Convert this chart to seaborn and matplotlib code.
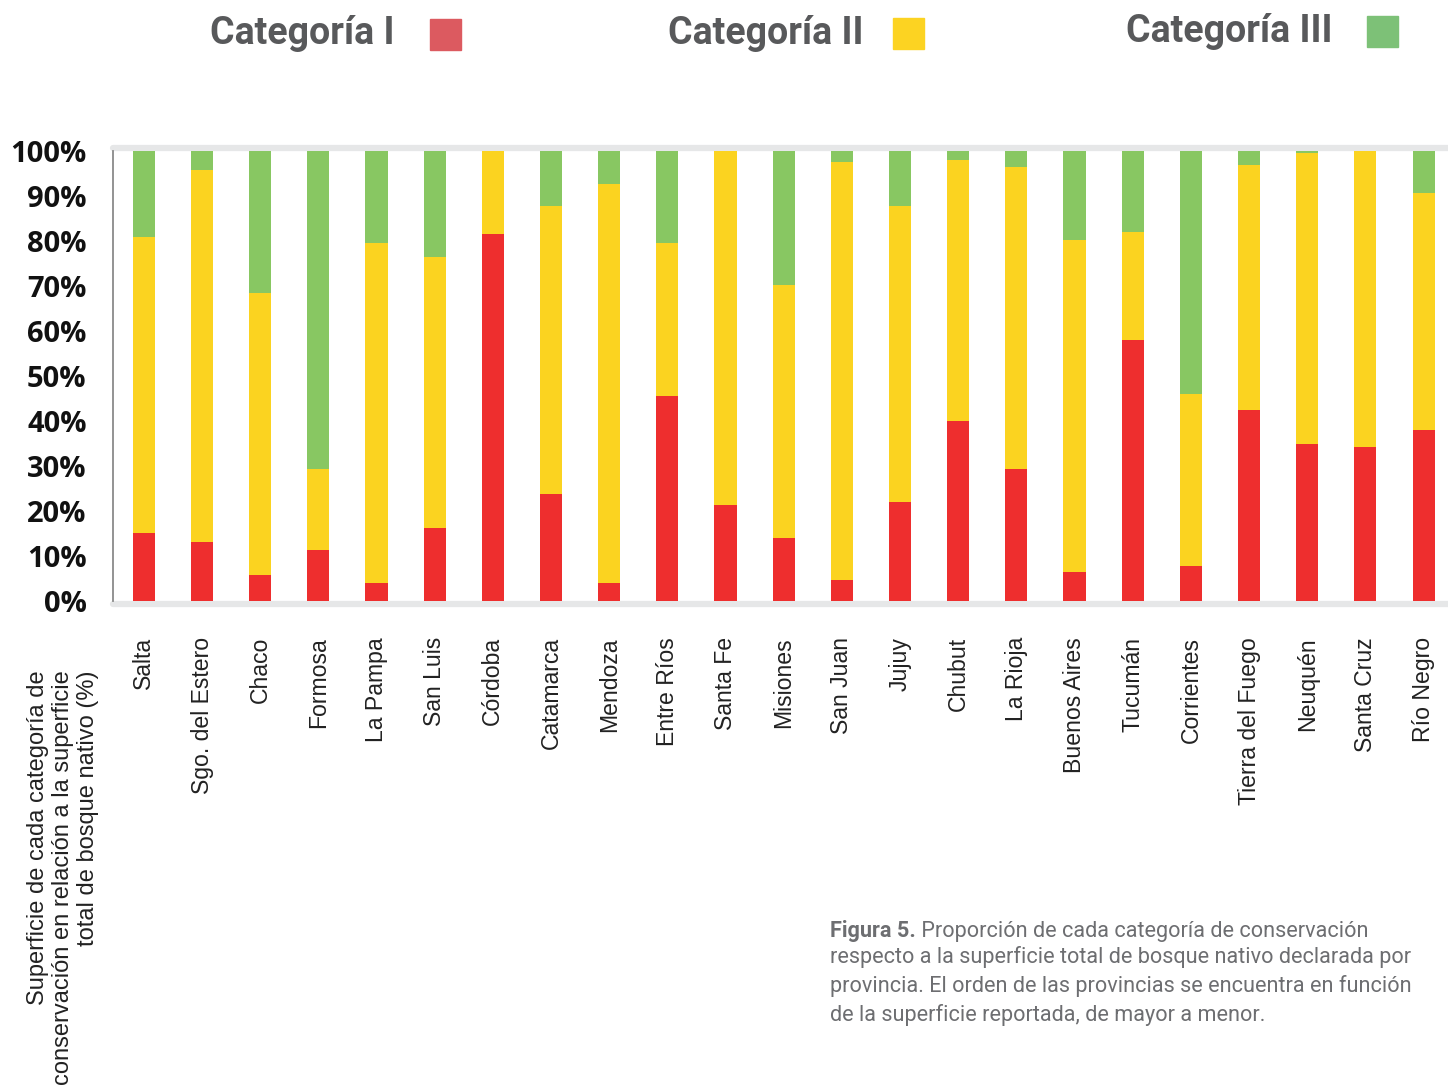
import numpy as np
import pandas as pd
import matplotlib.pyplot as plt
from matplotlib.patches import Rectangle
import seaborn as sns

# datos (% de la superficie de bosque nativo)
provincias = ['Salta', 'Sgo. del Estero', 'Chaco', 'Formosa', 'La Pampa', 'San Luis',
              'Córdoba', 'Catamarca', 'Mendoza', 'Entre Ríos', 'Santa Fe', 'Misiones',
              'San Juan', 'Jujuy', 'Chubut', 'La Rioja', 'Buenos Aires', 'Tucumán',
              'Corrientes', 'Tierra del Fuego', 'Neuquén', 'Santa Cruz', 'Río Negro']
cat_1 = [15.1, 13.2, 5.8, 11.3, 3.9, 16.3, 81.5, 23.8, 3.9, 45.5, 21.3, 13.9,
         4.6, 21.9, 39.9, 29.3, 6.4, 57.9, 7.7, 42.4, 34.9, 34.3, 38.0]
cat_2 = [65.8, 82.5, 62.6, 18.1, 75.7, 60.2, 18.5, 63.9, 88.8, 34.1, 78.7, 56.4,
         93.0, 65.8, 58.2, 67.1, 73.8, 24.2, 38.4, 54.6, 64.6, 65.7, 52.7]
cat_3 = [19.1, 4.3, 31.6, 70.6, 20.4, 23.5, 0.0, 12.3, 7.3, 20.4, 0.0, 29.7,
         2.4, 12.3, 1.9, 3.6, 19.8, 17.9, 53.9, 3.0, 0.5, 0.0, 9.3]
etiquetas_y = [f'{v}%' for v in range(0, 101, 10)]

rojo, amarillo, verde = '#ee2e2e', '#fbd320', '#88c762'

sns.set_style('white')
plt.rcParams['font.family'] = ['Liberation Sans', 'DejaVu Sans']

df = pd.DataFrame({'provincia': provincias, 'I': cat_1, 'II': cat_2, 'III': cat_3})
df['tope_II'] = df['I'] + df['II']
df['tope_III'] = df['tope_II'] + df['III']

fig = plt.figure(figsize=(14.48, 10.88), dpi=100)
ax = fig.add_axes([113 / 1448, 487 / 1088, 1335 / 1448, 450 / 1088])

# barras apiladas: se dibuja de arriba hacia abajo
sns.barplot(data=df, x='provincia', y='tope_III', color=verde, width=0.38,
            saturation=1, linewidth=0, ax=ax)
sns.barplot(data=df, x='provincia', y='tope_II', color=amarillo, width=0.38,
            saturation=1, linewidth=0, ax=ax)
sns.barplot(data=df, x='provincia', y='I', color=rojo, width=0.38,
            saturation=1, linewidth=0, ax=ax)

ax.set_ylim(0, 100)
ax.set_xlim(-0.53, 22.42)
ax.set_xlabel('')
ax.set_ylabel('')

# lineas grises arriba y abajo
ax.axhline(100.7, color='#e6e7e8', lw=4.5, clip_on=False, zorder=0)
ax.axhline(-0.7, color='#e6e7e8', lw=4.5, clip_on=False, zorder=0)

for s in ['top', 'right', 'bottom']:
    ax.spines[s].set_visible(False)
ax.spines['left'].set_color('#8a8a8a')
ax.spines['left'].set_linewidth(1.3)

ax.set_yticks(range(0, 101, 10))
ax.set_yticklabels(etiquetas_y)
ax.tick_params(axis='y', length=6, width=1.3, color='#8a8a8a', pad=13, labelsize=21)
for lbl in ax.get_yticklabels():
    lbl.set_family(['Open Sans', 'DejaVu Sans'])
    lbl.set_fontweight('bold')
    lbl.set_color('#111111')

ax.tick_params(axis='x', length=0, pad=26, labelsize=16.6, labelcolor='#222222')
plt.setp(ax.get_xticklabels(), rotation=90)

# titulo del eje y
fig.text(63 / 1448, 1 - 670 / 1088,
         'Superficie de cada categoría de\nconservación en relación a la superficie\ntotal de bosque nativo (%)',
         rotation=90, ha='center', va='top', multialignment='right',
         fontsize=17, color='#222222', linespacing=1.15)

# leyenda
leyenda = [('Categoría I', 210, 430, 34, '#dc5a60'),
           ('Categoría II', 668, 893, 33, '#fcd322'),
           ('Categoría III', 1126, 1367, 31, '#7dc177')]
for txt, xt, xr, yc, col in leyenda:
    fig.text(xt / 1448, 1 - yc / 1088, txt, ha='left', va='center', fontsize=27,
             fontweight='bold', family=['Roboto', 'DejaVu Sans'], color='#58595b')
    fig.add_artist(Rectangle((xr / 1448, 1 - (yc + 16) / 1088), 31 / 1448, 31 / 1088,
                             transform=fig.transFigure, color=col))

# pie de figura
gris = '#6d6e71'
t1 = fig.text(830 / 1448, 1 - 942 / 1088, 'Figura 5.', ha='left', va='bottom',
              fontsize=15.6, fontweight='bold', family=['Roboto', 'DejaVu Sans'], color=gris)
ax.annotate(' Proporción de cada categoría de conservación', xy=(1, 0), xycoords=t1,
            ha='left', va='bottom', fontsize=15.6, family=['Roboto', 'DejaVu Sans'],
            color=gris, annotation_clip=False)
fig.text(830 / 1448, 1 - 946 / 1088,
         'respecto a la superficie total de bosque nativo declarada por\n'
         'provincia. El orden de las provincias se encuentra en función\n'
         'de la superficie reportada, de mayor a menor.',
         ha='left', va='top', fontsize=15.6, family=['Roboto', 'DejaVu Sans'],
         color=gris, linespacing=1.4)

fig.savefig('out.png', dpi=100)
